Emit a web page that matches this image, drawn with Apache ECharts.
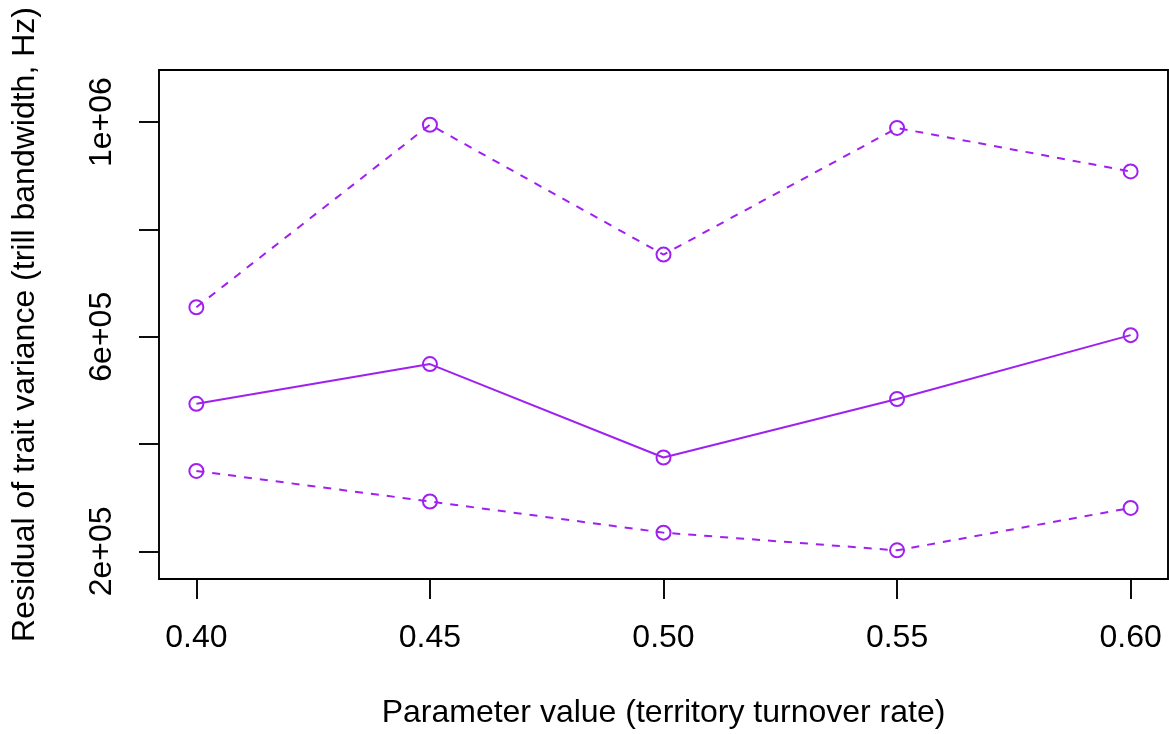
<!DOCTYPE html>
<html>
<head>
<meta charset="utf-8">
<script src="https://cdn.jsdelivr.net/npm/echarts@6/dist/echarts.min.js"></script>
<style>
  html, body { margin: 0; padding: 0; background: #fff; }
  #chart { width: 1169px; height: 734px; }
</style>
</head>
<body>
<div id="chart"></div>
<script>
// Territory turnover rate tested in the simulations
const turnoverRates = [0.40, 0.45, 0.50, 0.55, 0.60];

// Residual of trait variance: mean with upper and lower bounds
const upperBound = [655000, 995000, 753000, 989000, 908000];
const meanResidual = [475000, 549000, 375000, 484000, 603000];
const lowerBound = [350000, 293000, 235000, 202000, 281000];

// Axis ticks and labels
const xTickValues = [0.40, 0.45, 0.50, 0.55, 0.60];
const yTickValues = [200000, 400000, 600000, 800000, 1000000];
const yLabelValues = [200000, 600000, 1000000];
const yLabelText = { 200000: '2e+05', 600000: '6e+05', 1000000: '1e+06' };

const purple = '#A020F0';
const font = '"Liberation Sans", Arial, Helvetica, sans-serif';
const fontSize = 32;

function pairs(ys) {
  return turnoverRates.map((x, i) => [x, ys[i]]);
}

function makeSeries(name, ys, dashed) {
  return {
    name: name,
    type: 'line',
    data: pairs(ys),
    symbol: 'circle',
    symbolSize: 14,
    showSymbol: true,
    z: 3,
    itemStyle: { color: 'rgba(0,0,0,0)', borderColor: purple, borderWidth: 2 },
    lineStyle: { color: purple, width: 2, type: dashed ? [8, 8] : 'solid' },
    emphasis: { disabled: true },
    animation: false
  };
}

const chart = echarts.init(document.getElementById('chart'), null, { renderer: 'canvas' });

chart.setOption({
  backgroundColor: '#ffffff',
  animation: false,
  textStyle: { fontFamily: font },
  grid: {
    left: 159, top: 70, right: 1, bottom: 153,
    show: true, borderColor: '#000', borderWidth: 1.9, backgroundColor: 'transparent'
  },
  xAxis: {
    type: 'value',
    min: 0.392,
    max: 0.608,
    name: 'Parameter value (territory turnover rate)',
    nameLocation: 'middle',
    nameGap: 118,
    nameTextStyle: { fontSize: fontSize, color: '#000', fontFamily: font },
    axisLine: { show: false },
    splitLine: { show: false },
    axisTick: {
      show: true, inside: false, length: 20,
      customValues: xTickValues,
      lineStyle: { color: '#000', width: 1.9 }
    },
    axisLabel: {
      customValues: xTickValues,
      formatter: v => v.toFixed(2),
      fontSize: fontSize, color: '#000', fontFamily: font, margin: 43
    }
  },
  yAxis: {
    type: 'value',
    min: 148600,
    max: 1097000,
    name: 'Residual of trait variance (trill bandwidth, Hz)',
    nameLocation: 'middle',
    nameGap: 118,
    nameRotate: 90,
    nameTextStyle: { fontSize: fontSize, color: '#000', fontFamily: font },
    axisLine: { show: false },
    splitLine: { show: false },
    axisTick: {
      show: true, inside: false, length: 20,
      customValues: yTickValues,
      lineStyle: { color: '#000', width: 1.9 }
    },
    axisLabel: {
      customValues: yLabelValues,
      rotate: 90,
      formatter: v => yLabelText[v] || '',
      fontSize: fontSize, color: '#000', fontFamily: font, margin: 41
    }
  },
  series: [
    makeSeries('Upper', upperBound, true),
    makeSeries('Mean', meanResidual, false),
    makeSeries('Lower', lowerBound, true)
  ]
});
</script>
</body>
</html>
